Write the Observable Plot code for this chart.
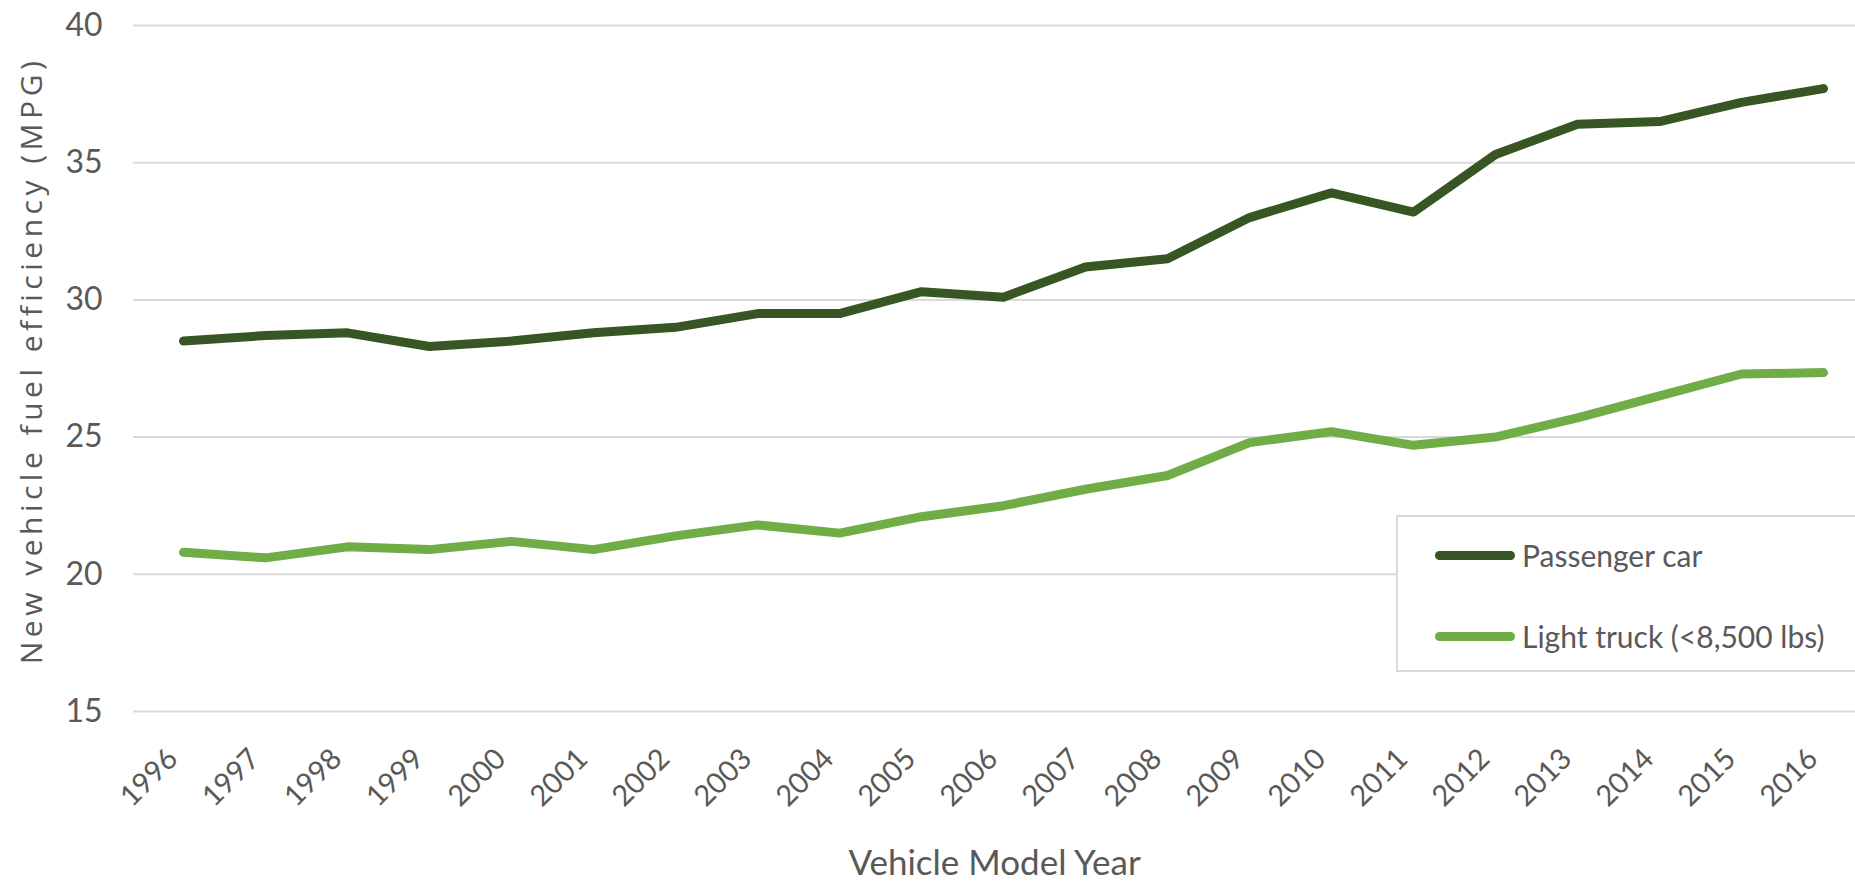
<!DOCTYPE html>
<html><head><meta charset="utf-8">
<script src="https://cdn.jsdelivr.net/npm/d3@7"></script>
<script src="https://cdn.jsdelivr.net/npm/@observablehq/plot@0.6"></script>
<style>
html,body{margin:0;padding:0;background:#fff;overflow:hidden;}
#wrap{position:relative;width:1855px;height:887px;}
#legend{position:absolute;left:1396px;top:515px;width:480px;height:157px;background:#fff;border:2px solid #d9d9d9;box-sizing:border-box;font-family:Lato,sans-serif;color:#595959;font-size:30px;}
.item{position:absolute;left:37px;height:40px;display:flex;align-items:center;}
.sw{width:80px;height:9px;border-radius:5px;margin-right:7px;}
.ytitle text{letter-spacing:4.5px;}
</style></head><body><div id="wrap"></div>
<script>
const years = [1996,1997,1998,1999,2000,2001,2002,2003,2004,2005,2006,2007,2008,2009,2010,2011,2012,2013,2014,2015,2016];
const passengerCar = [28.5,28.7,28.8,28.3,28.5,28.8,29.0,29.5,29.5,30.3,30.1,31.2,31.5,33.0,33.9,33.2,35.3,36.4,36.5,37.2,37.7];
const lightTruck = [20.8,20.6,21.0,20.9,21.2,20.9,21.4,21.8,21.5,22.1,22.5,23.1,23.6,24.8,25.2,24.7,25.0,25.7,26.5,27.3,27.35];
const yTicks = [15,20,25,30,35,40];
const seriesNames = ["Passenger car","Light truck (<8,500 lbs)"];
const seriesColors = ["#375623","#70ad47"];
const xTitle = "Vehicle Model Year";
const yTitle = "New vehicle fuel efficiency (MPG)";

const rows = years.flatMap((yr,i)=>[
  {year:yr, value:passengerCar[i], series:seriesNames[0]},
  {year:yr, value:lightTruck[i], series:seriesNames[1]}
]);

const chart = Plot.plot({
  width:1855, height:887, marginTop:25, marginBottom:176, marginLeft:133, marginRight:0,
  style:{background:"transparent", fontFamily:"Lato, sans-serif", color:"#595959"},
  x:{type:"point", domain:years, range:[176,1829], padding:0, axis:null},
  y:{domain:[15,40]},
  color:{domain:seriesNames, range:seriesColors},
  marks:[
    Plot.ruleY(yTicks, {stroke:"#d9d9d9", strokeWidth:2}),
    Plot.axisY({ticks:yTicks, tickSize:0, tickPadding:31, fontSize:32, label:null, fill:"#595959"}),
    Plot.line(rows, {x:"year", y:"value", z:"series", stroke:"series", strokeWidth:9, strokeLinecap:"round", strokeLinejoin:"round"}),
    Plot.text(years, {x:d=>d, text:d=>String(d), frameAnchor:"bottom", dy:49, dx:-4, rotate:-45, textAnchor:"end", fontSize:29, fill:"#595959"}),
    Plot.text([xTitle], {text:d=>d, frameAnchor:"bottom", dy:163, fontSize:35, fill:"#595959"}),
    Plot.text([yTitle], {text:d=>d, frameAnchor:"left", textAnchor:"middle", dx:-101, dy:-8, rotate:-90, fontSize:30, fill:"#595959", fontFamily:"Open Sans", className:"ytitle"})
  ]
});
const wrap = document.getElementById("wrap");
wrap.appendChild(chart);

const legend = document.createElement("div");
legend.id = "legend";
seriesNames.forEach((name,i)=>{
  const it = document.createElement("div");
  it.className = "item";
  it.style.top = (i===0 ? 18 : 99) + "px";
  const sw = document.createElement("div");
  sw.className = "sw";
  sw.style.background = seriesColors[i];
  const tx = document.createElement("span");
  tx.textContent = name;
  it.appendChild(sw); it.appendChild(tx);
  legend.appendChild(it);
});
wrap.appendChild(legend);
</script>
</body></html>
